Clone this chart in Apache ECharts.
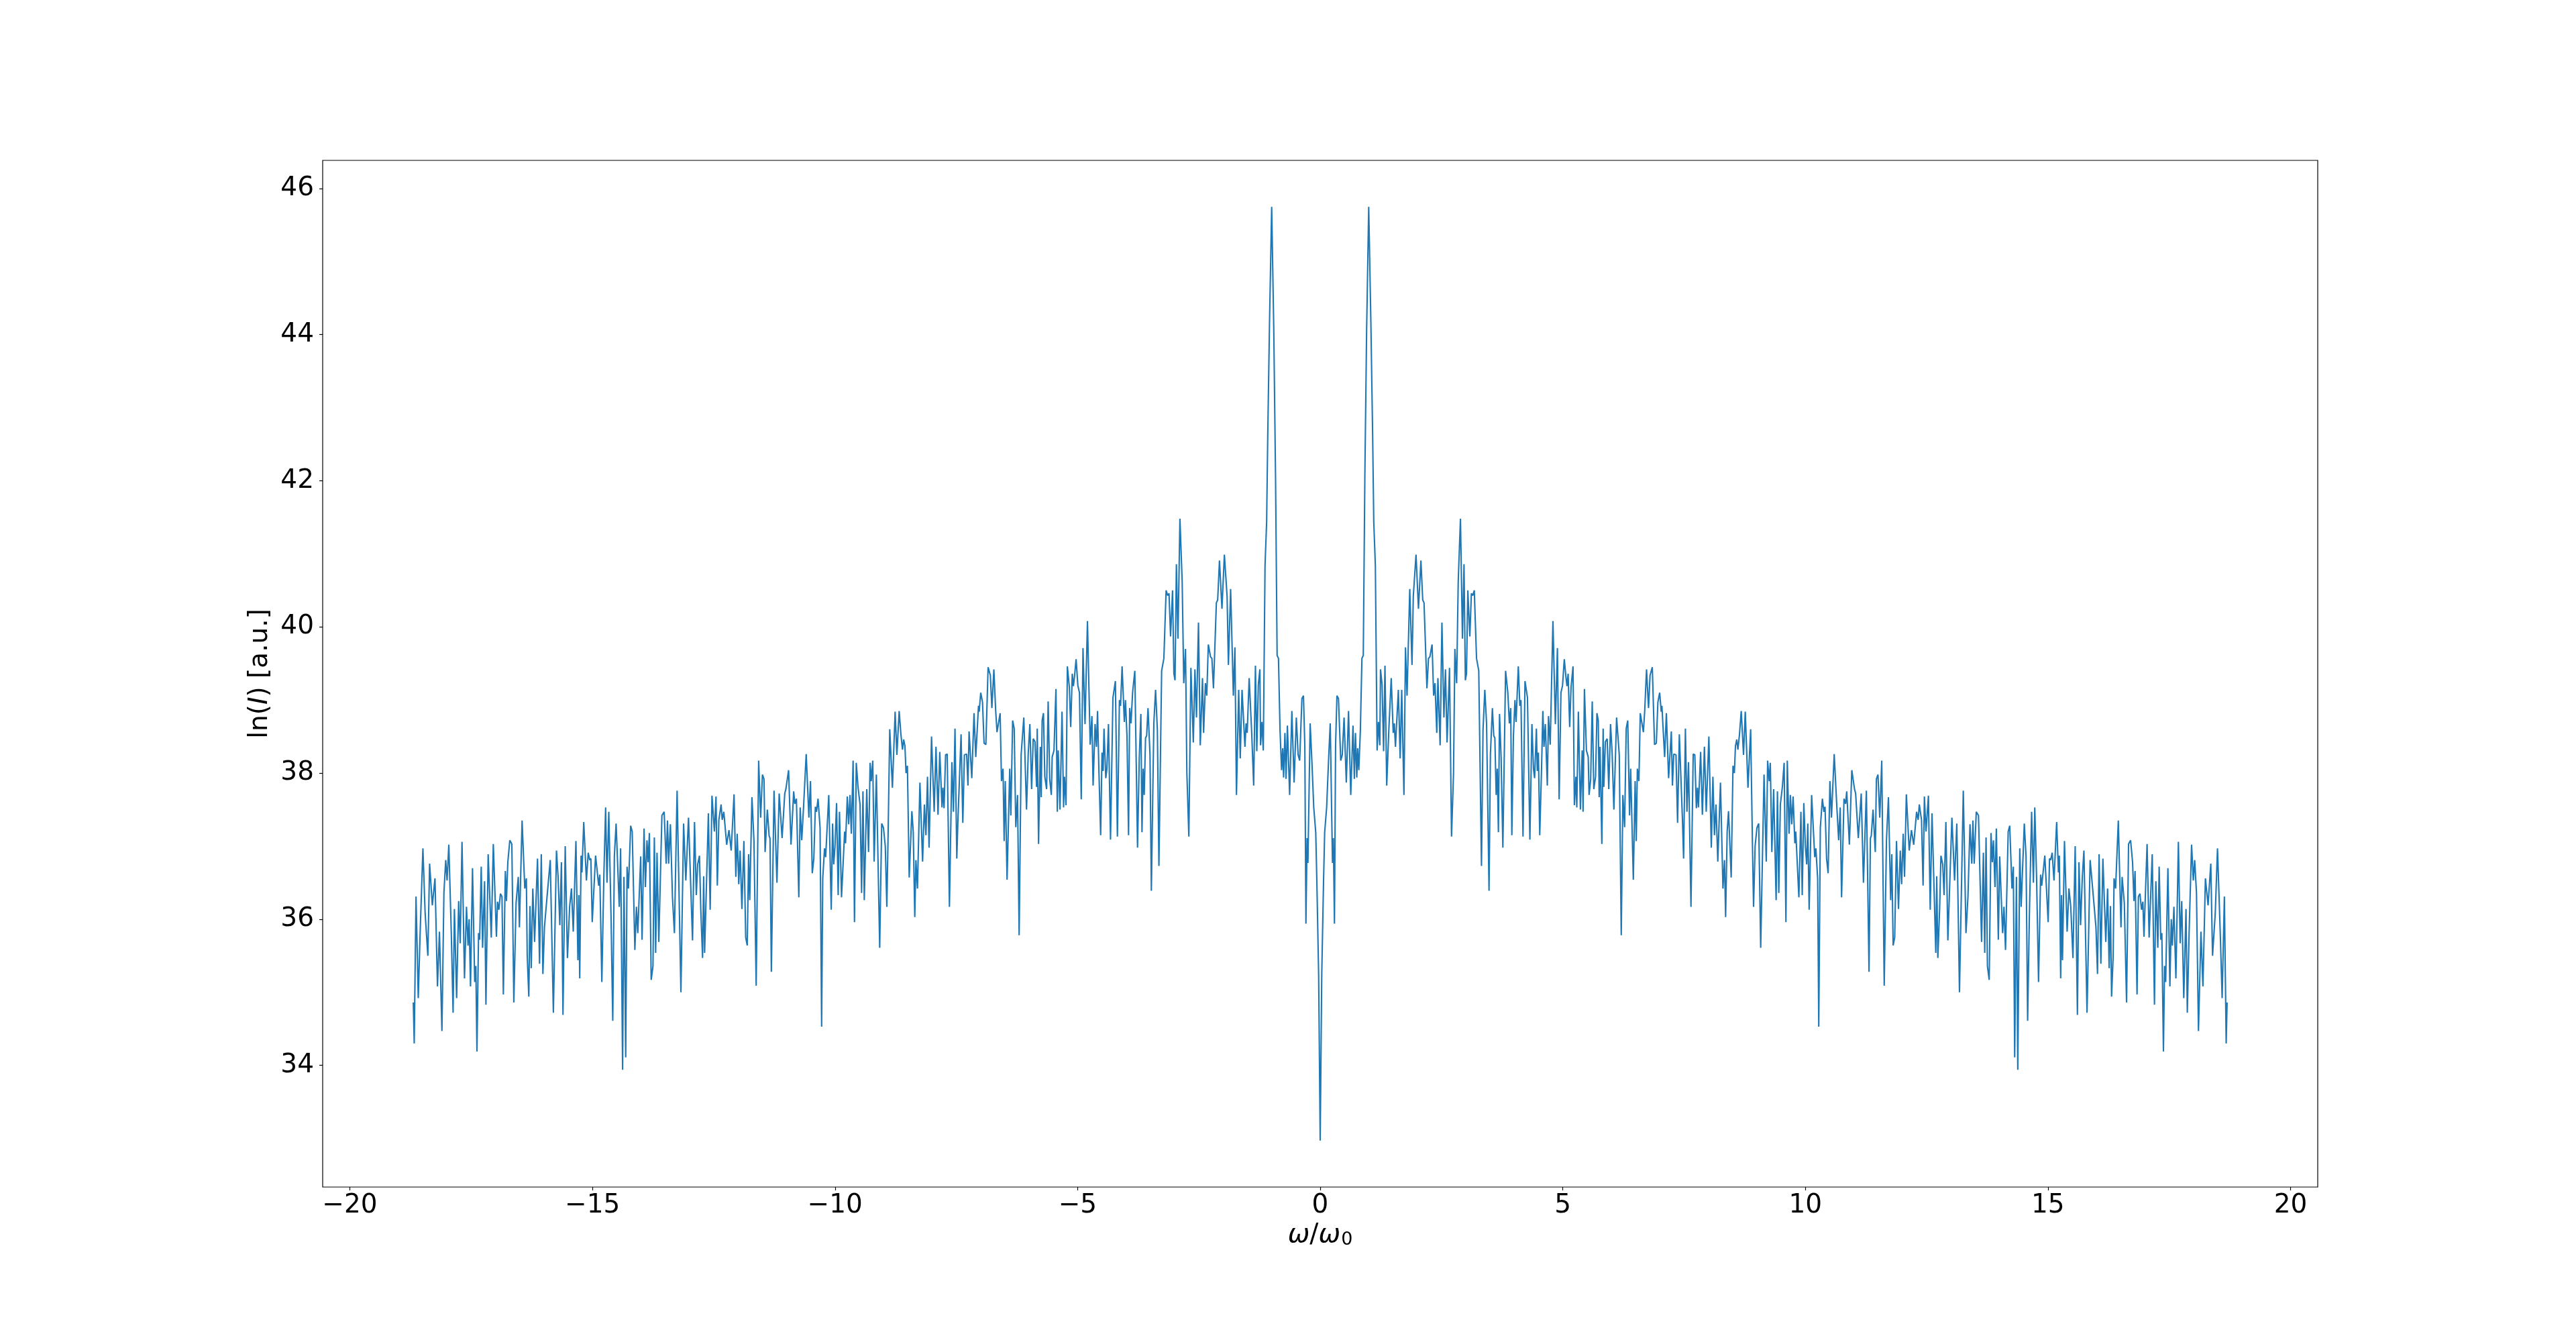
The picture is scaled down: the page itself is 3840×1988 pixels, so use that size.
<!DOCTYPE html>
<html>
<head>
<meta charset="utf-8">
<script src="https://cdn.jsdelivr.net/npm/echarts@6/dist/echarts.min.js"></script>
<style>
html, body { margin: 0; padding: 0; background: #ffffff; }
#chart { width: 3840px; height: 1988px; }
</style>
</head>
<body>
<div id="chart"></div>
<script>
// ---- Data (omega/omega0, ln(I)) ----
// The reference spectrum is mirror-symmetric about omega = 0;
const seg1 = [[-18.692,34.86],[-18.673,34.30],[-18.636,36.31],[-18.590,34.92],[-18.554,35.75],[-18.494,36.97],[-18.448,36.08],[-18.392,35.50],[-18.356,36.76],[-18.300,36.19],[-18.245,36.56],[-18.194,35.08],[-18.153,35.83],[-18.102,34.47],[-18.061,36.36],[-18.024,36.81],[-17.996,36.53],[-17.960,37.02],[-17.909,35.81],[-17.872,34.72],[-17.845,36.14],[-17.799,34.92],[-17.757,36.25],[-17.725,35.67],[-17.688,37.06],[-17.637,35.19],[-17.596,36.17],[-17.564,35.64],[-17.541,36.00],[-17.513,35.08],[-17.472,36.70],[-17.426,35.14],[-17.403,35.36],[-17.380,34.19],[-17.347,35.81],[-17.324,35.72],[-17.292,36.72],[-17.264,35.61],[-17.223,36.52],[-17.195,34.83],[-17.149,36.89],[-17.085,35.75],[-17.043,37.03],[-16.979,35.76],[-16.956,36.24],[-16.928,36.13],[-16.896,36.35],[-16.864,36.31],[-16.836,34.97],[-16.795,36.66],[-16.772,36.25],[-16.744,36.78],[-16.703,37.08],[-16.661,37.03],[-16.620,34.86],[-16.574,36.22],[-16.528,36.58],[-16.505,35.89],[-16.450,37.35],[-16.394,36.42],[-16.362,36.56],[-16.344,35.50],[-16.311,34.94],[-16.288,36.18],[-16.261,35.33],[-16.229,36.42],[-16.192,35.69],[-16.132,36.83],[-16.090,35.39],[-16.054,36.89],[-16.021,35.25],[-15.989,35.89],[-15.939,36.28],[-15.869,36.81],[-15.805,34.72],[-15.741,36.94],[-15.708,36.58],[-15.672,35.92],[-15.639,36.78],[-15.607,34.69],[-15.561,37.00],[-15.515,35.47],[-15.469,36.18],[-15.432,36.42],[-15.395,35.83],[-15.340,37.07],[-15.299,35.44],[-15.280,36.33],[-15.262,35.19],[-15.234,36.87],[-15.216,36.64],[-15.179,37.33]];
const seg2 = [[-15.124,36.53],[-15.087,36.91],[-15.055,36.81],[-15.032,36.83],[-15.004,35.96],[-14.935,36.87],[-14.871,36.46],[-14.848,36.61],[-14.806,35.14],[-14.765,36.58],[-14.728,37.53],[-14.700,36.50],[-14.663,37.47],[-14.617,36.06],[-14.581,34.61],[-14.548,36.86],[-14.512,37.31],[-14.447,36.17],[-14.419,36.97],[-14.378,33.94],[-14.350,36.58],[-14.314,34.11],[-14.286,36.72],[-14.258,36.42],[-14.212,37.28],[-14.180,37.20],[-14.125,35.58],[-14.093,36.17],[-14.065,35.81],[-14.005,36.86],[-13.977,35.72],[-13.936,37.24],[-13.908,36.44],[-13.876,37.08],[-13.853,36.78],[-13.826,37.18],[-13.789,35.17],[-13.752,35.36],[-13.724,37.12],[-13.697,35.54],[-13.669,36.91],[-13.632,35.69],[-13.568,37.42],[-13.522,37.47],[-13.480,36.76],[-13.453,37.35],[-13.430,36.76],[-13.393,37.30],[-13.351,36.31],[-13.310,35.81],[-13.255,37.76],[-13.176,35.00],[-13.121,37.31],[-13.075,36.53],[-13.020,37.39],[-12.937,35.71],[-12.896,37.33],[-12.859,36.33],[-12.831,36.75],[-12.794,36.87],[-12.767,36.14],[-12.730,35.47],[-12.707,36.59],[-12.688,35.54],[-12.610,37.45],[-12.573,36.13],[-12.536,37.69],[-12.486,37.20],[-12.453,37.68],[-12.426,36.46],[-12.394,37.36],[-12.348,37.57],[-12.325,37.36],[-12.292,37.47],[-12.233,37.02],[-12.186,37.22],[-12.140,36.94],[-12.081,37.71],[-12.044,36.58],[-12.016,37.17],[-11.984,36.48],[-11.956,36.94],[-11.919,36.14],[-11.878,37.07],[-11.841,35.75],[-11.809,35.64],[-11.781,36.89],[-11.758,36.26],[-11.712,37.67],[-11.671,37.08],[-11.625,35.09],[-11.574,38.17],[-11.533,37.39],[-11.496,37.98],[-11.464,37.92],[-11.441,36.92]];
const seg3 = [[-11.395,37.50],[-11.358,37.14],[-11.340,37.11],[-11.312,35.28],[-11.257,37.76],[-11.197,36.50],[-11.151,37.72],[-11.091,37.11],[-11.036,37.72],[-11.013,37.78],[-10.957,38.04],[-10.907,37.02],[-10.852,37.75],[-10.829,37.58],[-10.796,37.65],[-10.746,36.30],[-10.718,37.53],[-10.686,37.08],[-10.649,37.53],[-10.594,38.26],[-10.538,37.39],[-10.506,37.89],[-10.469,36.63],[-10.437,36.83],[-10.405,37.54],[-10.382,37.47],[-10.350,37.65],[-10.308,37.25],[-10.276,34.53],[-10.253,36.56],[-10.216,36.97],[-10.193,36.85],[-10.129,37.70],[-10.078,36.13],[-10.050,37.31],[-10.027,36.75],[-10.000,37.00],[-9.968,37.59],[-9.935,36.33],[-9.908,37.47],[-9.866,36.30],[-9.802,37.20],[-9.783,37.04],[-9.747,37.68],[-9.719,37.30],[-9.691,37.70],[-9.664,37.17],[-9.627,38.17],[-9.599,35.96],[-9.562,38.14],[-9.526,37.81],[-9.484,37.57],[-9.452,36.36],[-9.424,37.75],[-9.397,36.26],[-9.346,37.78],[-9.309,36.92],[-9.277,38.14],[-9.254,37.89],[-9.222,38.17],[-9.194,36.79],[-9.148,37.98],[-9.079,35.61],[-9.038,37.31],[-9.001,37.25],[-8.964,37.00],[-8.932,36.17],[-8.909,37.03],[-8.872,38.60],[-8.817,37.80],[-8.761,38.84],[-8.725,38.25],[-8.678,38.85],[-8.642,38.53],[-8.609,38.32],[-8.586,38.46],[-8.559,38.37],[-8.536,38.00],[-8.508,38.10],[-8.471,36.57],[-8.416,37.48],[-8.388,37.20],[-8.356,36.03],[-8.333,36.81],[-8.301,36.42],[-8.250,37.87],[-8.195,36.79],[-8.158,37.57],[-8.126,37.15],[-8.094,37.95],[-8.061,36.98],[-8.011,38.50],[-7.956,37.47],[-7.919,38.36],[-7.877,37.43],[-7.841,38.29],[-7.795,37.53],[-7.776,37.80],[-7.753,37.52],[-7.721,38.25]];
const seg4 = [[-7.688,38.26],[-7.642,36.17],[-7.591,38.15],[-7.559,37.47],[-7.527,38.61],[-7.490,36.83],[-7.467,37.35],[-7.402,38.53],[-7.366,37.32],[-7.333,38.25],[-7.287,38.26],[-7.260,37.83],[-7.237,38.57],[-7.181,37.93],[-7.135,38.82],[-7.099,38.22],[-7.043,38.92],[-7.029,38.84],[-6.997,39.10],[-6.960,38.97],[-6.928,38.41],[-6.891,38.39],[-6.845,39.45],[-6.799,39.34],[-6.767,38.89],[-6.726,39.42],[-6.689,38.86],[-6.661,38.56],[-6.597,38.82],[-6.569,37.89],[-6.537,38.06],[-6.514,37.07],[-6.491,37.89],[-6.454,36.54],[-6.399,38.06],[-6.376,37.42],[-6.339,38.72],[-6.307,38.61],[-6.274,37.26],[-6.238,37.70],[-6.205,35.78],[-6.164,38.25],[-6.109,38.76],[-6.053,37.50],[-6.017,38.28],[-5.984,38.67],[-5.948,37.78],[-5.915,38.47],[-5.878,38.43],[-5.846,37.81],[-5.832,38.61],[-5.805,37.03],[-5.768,38.36],[-5.750,37.67],[-5.731,38.72],[-5.704,38.82],[-5.676,37.95],[-5.639,37.78],[-5.607,38.98],[-5.575,37.92],[-5.542,37.70],[-5.524,38.22],[-5.487,38.31],[-5.446,39.15],[-5.418,37.47],[-5.400,38.31],[-5.363,37.50],[-5.321,38.84],[-5.289,37.53],[-5.271,37.95],[-5.239,37.56],[-5.211,39.46],[-5.170,39.17],[-5.142,38.63],[-5.110,39.36],[-5.087,39.19],[-5.064,39.32],[-5.031,39.56],[-4.995,39.20],[-4.962,39.10],[-4.925,37.64],[-4.889,39.71],[-4.847,38.67],[-4.797,40.08],[-4.741,38.39],[-4.705,38.78],[-4.681,37.83],[-4.640,38.67],[-4.612,38.36],[-4.589,38.85],[-4.562,38.06],[-4.525,37.15],[-4.497,38.28],[-4.474,38.03],[-4.456,38.61],[-4.419,37.93],[-4.396,38.06],[-4.364,38.67],[-4.322,37.09],[-4.272,39.03],[-4.221,39.26],[-4.180,37.13],[-4.138,39.00],[-4.115,38.92],[-4.083,39.46],[-4.037,38.70],[-4.014,39.00],[-3.982,38.50]];
const seg5 = [[-3.950,37.15],[-3.927,38.89],[-3.899,38.68],[-3.867,39.10],[-3.821,39.40],[-3.765,36.98],[-3.729,38.21],[-3.696,38.81],[-3.673,37.19],[-3.650,38.06],[-3.627,37.70],[-3.600,38.48],[-3.577,38.51],[-3.549,38.89],[-3.508,38.25],[-3.480,36.39],[-3.429,38.68],[-3.393,39.14],[-3.356,38.59],[-3.324,36.73],[-3.268,39.40],[-3.222,39.57],[-3.176,40.50],[-3.144,40.43],[-3.116,40.46],[-3.084,39.87],[-3.043,40.50],[-3.015,39.36],[-2.992,39.27],[-2.964,40.86],[-2.932,39.84],[-2.891,41.48],[-2.845,40.63],[-2.812,39.23],[-2.776,39.70],[-2.748,38.00],[-2.707,37.13],[-2.665,39.44],[-2.615,38.42],[-2.582,39.42],[-2.550,38.76],[-2.509,40.06],[-2.472,38.38],[-2.426,39.30],[-2.403,38.55],[-2.366,39.23],[-2.338,39.06],[-2.306,39.76],[-2.260,39.59],[-2.232,39.57],[-2.200,39.16],[-2.140,40.33],[-2.113,40.37],[-2.076,40.91],[-2.025,40.25],[-1.975,40.99],[-1.919,40.42],[-1.892,39.48],[-1.846,40.52],[-1.790,39.06],[-1.758,39.72],[-1.726,37.70],[-1.680,39.14],[-1.648,38.20],[-1.611,39.14],[-1.551,38.36],[-1.528,38.68],[-1.505,38.55],[-1.464,39.30],[-1.413,38.57],[-1.371,37.83],[-1.335,39.47],[-1.307,38.30],[-1.275,39.21],[-1.243,39.42],[-1.229,38.38],[-1.201,38.70],[-1.173,38.31],[-1.137,40.84],[-1.104,41.44],[-1.081,42.62],[-1.045,44.15],[-1.000,45.75],[-0.957,44.07],[-0.920,42.03],[-0.888,39.61],[-0.860,39.57],[-0.828,38.59],[-0.796,38.04],[-0.773,38.34],[-0.754,37.94],[-0.727,38.55],[-0.704,37.92],[-0.676,38.65],[-0.630,37.70],[-0.584,38.85],[-0.538,37.87],[-0.492,38.76],[-0.455,38.25],[-0.423,38.17],[-0.377,39.02],[-0.345,39.06],[-0.317,38.38],[-0.294,35.94],[-0.271,37.11],[-0.253,36.77],[-0.207,38.68],[-0.170,38.14],[-0.133,37.53],[-0.092,37.19],[-0.069,36.52],[-0.032,35.24]];
const centerPoint = [0, 32.97];

const xTicks = [-20, -15, -10, -5, 0, 5, 10, 15, 20];
const yTicks = [34, 36, 38, 40, 42, 44, 46];
const xRange = [-20.56, 20.56];
const yRange = [32.335, 46.385];

const leftHalf = [].concat(seg1, seg2, seg3, seg4, seg5);
const rightHalf = leftHalf.slice().reverse().map(p => [-p[0], p[1]]);
const spectrum = leftHalf.concat([centerPoint], rightHalf);

const FONT = 'DejaVu Sans';
const fmt = v => (v < 0 ? '\u2212' + Math.abs(v) : String(v));

const chart = echarts.init(document.getElementById('chart'), null, { renderer: 'canvas' });
chart.setOption({
  animation: false,
  backgroundColor: '#ffffff',
  grid: {
    left: 481, right: 385, top: 239, bottom: 219,
    show: true, borderColor: '#000000', borderWidth: 1.2,
    backgroundColor: 'transparent'
  },
  xAxis: {
    type: 'value',
    min: xRange[0], max: xRange[1],
    splitLine: { show: false },
    axisLine: { show: false, onZero: false },
    axisTick: { show: true, length: 5, customValues: xTicks, lineStyle: { color: '#000', width: 1.2 } },
    axisLabel: { customValues: xTicks, formatter: fmt, fontSize: 39, fontFamily: FONT, color: '#000', margin: 8 },
    name: '{i|ω}{n|/}{i|ω}{s|0}',
    nameLocation: 'middle',
    nameGap: 51,
    nameTextStyle: {
      fontSize: 39, fontFamily: FONT, color: '#000',
      rich: {
        i: { fontSize: 39, fontFamily: FONT, fontStyle: 'italic', color: '#000' },
        n: { fontSize: 39, fontFamily: FONT, color: '#000' },
        s: { fontSize: 27, fontFamily: FONT, color: '#000', padding: [14, 0, 0, 1] }
      }
    }
  },
  yAxis: {
    type: 'value',
    min: yRange[0], max: yRange[1],
    splitLine: { show: false },
    axisLine: { show: false, onZero: false },
    axisTick: { show: true, length: 5, customValues: yTicks, lineStyle: { color: '#000', width: 1.2 } },
    axisLabel: { customValues: yTicks, formatter: fmt, fontSize: 39, fontFamily: FONT, color: '#000', margin: 13 },
    name: '{n|ln(}{i|I}{n|) [a.u.]}',
    nameLocation: 'middle',
    nameGap: 67,
    nameRotate: 90,
    nameTextStyle: {
      fontSize: 39, fontFamily: FONT, color: '#000',
      rich: {
        i: { fontSize: 39, fontFamily: FONT, fontStyle: 'italic', color: '#000' },
        n: { fontSize: 39, fontFamily: FONT, color: '#000' }
      }
    }
  },
  series: [{
    type: 'line',
    data: spectrum,
    showSymbol: false,
    symbol: 'none',
    lineStyle: { color: '#1f77b4', width: 2.1 },
    clip: true
  }]
});
</script>
</body>
</html>
